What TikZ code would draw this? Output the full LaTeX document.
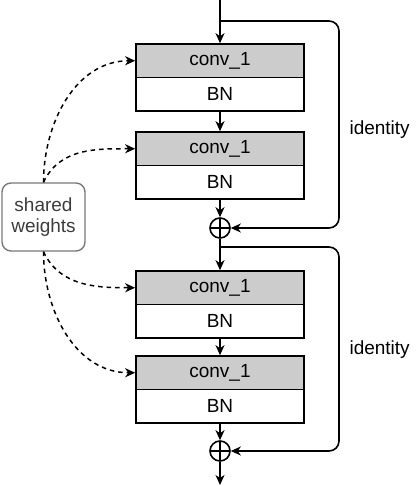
\documentclass[tikz,border=0pt]{standalone}
\usepackage{fontspec}
\setmainfont{Liberation Sans}
\usetikzlibrary{arrows.meta}

\definecolor{convgray}{RGB}{204,204,204}
\definecolor{boxgray}{RGB}{120,120,120}
\definecolor{textgray}{RGB}{60,60,60}

\tikzset{
  layer/.style={draw, line width=1.6pt, minimum width=168pt, minimum height=33.5pt, inner sep=0pt},
  convlayer/.style={layer, fill=convgray},
  plus/.style={draw, circle, line width=1.6pt, minimum size=20pt, inner sep=0pt,
    path picture={\draw[line width=1.6pt] (path picture bounding box.north) -- (path picture bounding box.south)
      (path picture bounding box.west) -- (path picture bounding box.east);}},
  arrow/.style={line width=1.6pt, -{Stealth[length=10pt, width=9pt, inset=3pt]}},
  shared/.style={line width=1.5pt, dash pattern=on 4.5pt off 4pt, -{Stealth[length=10pt, width=9pt, inset=3pt]}}
}

\begin{document}
\begin{tikzpicture}[x=1pt, y=-1pt, font=\fontsize{19}{21}\selectfont]

\useasboundingbox (0,0) rectangle (415,486);

% first residual block
\node[convlayer] (conv1) at (220,60.75) {conv\_1};
\node[layer] (bn1) at (220,94.25) {BN};
\node[convlayer] (conv2) at (220,148.75) {conv\_1};
\node[layer] (bn2) at (220,182.25) {BN};
\node[plus] (plus1) at (220,228) {};

% second residual block
\node[convlayer] (conv3) at (220,287.75) {conv\_1};
\node[layer] (bn3) at (220,321.25) {BN};
\node[convlayer] (conv4) at (220,372.75) {conv\_1};
\node[layer] (bn4) at (220,406.25) {BN};
\node[plus] (plus2) at (220,451) {};

\coordinate (in) at (220,0);
\coordinate (out) at (220,485);
\coordinate (split1) at (220,21);
\coordinate (skip1) at (339,21);
\coordinate (split2) at (220,247);
\coordinate (skip2) at (339,247);

\draw[arrow] (in) -- (conv1);
\draw[arrow] (bn1) -- (conv2);
\draw[arrow] (bn2) -- (plus1);
\draw[arrow] (plus1) -- (conv3);
\draw[arrow] (bn3) -- (conv4);
\draw[arrow] (bn4) -- (plus2);
\draw[arrow] (plus2) -- (out);

% identity shortcuts
\draw[arrow, rounded corners=10pt] (split1) -- (skip1) |- (plus1);
\draw[arrow, rounded corners=10pt] (split2) -- (skip2) |- (plus2);
\node[anchor=west] (id1) at (346,130) {identity};
\node[anchor=west] (id2) at (346,350) {identity};

% shared weights
\node[draw=boxgray, text=textgray, line width=1.4pt, rounded corners=9pt, minimum width=83pt,
  minimum height=68pt, align=center, inner sep=0pt] (weights) at (43.5,217) {shared\\weights};
\draw[shared] (weights.north) to[out=90, in=180] (conv1.west);
\draw[shared] (weights.north) to[out=65, in=180] (conv2.west);
\draw[shared] (weights.south) to[out=-65, in=180] (conv3.west);
\draw[shared] (weights.south) to[out=-90, in=180] (conv4.west);

\end{tikzpicture}
\end{document}
